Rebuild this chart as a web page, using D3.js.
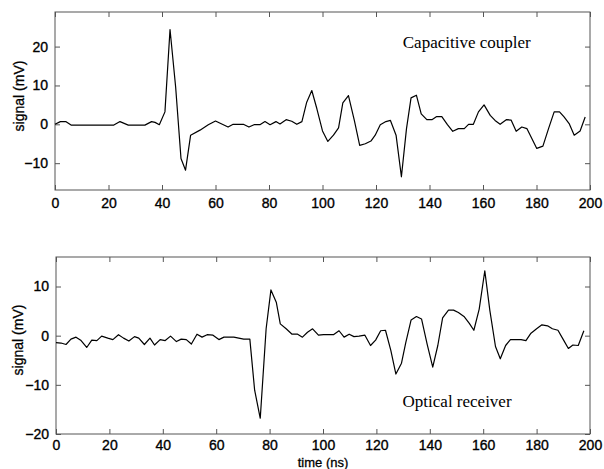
<!DOCTYPE html>
<html>
<head>
<meta charset="utf-8">
<script src="https://cdn.jsdelivr.net/npm/d3@7"></script>
<style>
  body { margin: 0; background: #fff; }
  svg { display: block; }
  .tick text { font-family: Arial, "Liberation Sans", sans-serif; font-size: 14px; fill: #000; stroke: #000; stroke-width: 0.35px; }
  .ylab { font-family: Arial, "Liberation Sans", sans-serif; font-size: 14px; fill: #000; stroke: #000; stroke-width: 0.3px; }
  .xlab { font-family: Arial, "Liberation Sans", sans-serif; font-size: 13px; fill: #000; stroke: #000; stroke-width: 0.3px; }
  .note { font-family: "Times New Roman", "Liberation Serif", serif; font-size: 17px; fill: #000; }
</style>
</head>
<body>
<div id="chart"></div>
<script>
// Capacitive coupler (top panel)
const capTime = [0, 2, 4, 6, 10, 14, 18, 22, 24.3, 27.4, 30, 33.6, 36.1, 37.4, 39, 41.1, 43, 45.1, 47.1, 48.8,
  50.7, 54.2, 57.3, 60, 64.7, 66.6, 70.4, 72.5, 74.4, 76.6, 78.5, 80.4, 82.6, 84.1, 86.4, 88.5, 90.4, 92.3,
  94.1, 96, 97.9, 100, 102, 104.1, 106, 107.6, 109.7, 111.9, 113.9, 116, 118.1, 119.7, 121.6, 123.7, 125.4,
  127.5, 129.5, 131.4, 133.1, 135.1, 136.9, 139, 140.9, 142.7, 144.6, 146.7, 148.7, 150.8, 153, 154.6, 156.4,
  158.3, 160.4, 162.7, 164.5, 166.4, 168.7, 170.5, 172.4, 174.5, 176.4, 178.3, 180.1, 182.4, 184.5, 186.6,
  188.6, 190.3, 192.2, 194.1, 196.3, 198.2];
const capSignal = [0, 0.7, 0.7, -0.2, -0.2, -0.2, -0.2, -0.2, 0.7, -0.2, -0.2, -0.2, 0.7, 0.5, -0.1, 3.2, 24.4, 9.6, -8.8, -11.8,
  -2.8, -1.5, -0.1, 0.85, -0.7, 0, 0, -0.7, -0.1, -0.1, 0.7, -0.1, 0.7, 0.1, 1.2, 0.8, 0, 0.7,
  5.7, 8.7, 4, -1.7, -4.4, -2.8, -0.9, 5.5, 7.4, 1, -5.4, -5, -4.3, -2.8, -0.1, 0.7, 1,
  -2.8, -13.5, -1.1, 6.8, 7.5, 2.7, 1.2, 1.2, 2, 2, -0.1, -1.8, -1.1, -1.1, 0, 0,
  3.2, 5, 2.3, 1, 0, 1.2, 1.1, -1.8, -0.7, -1.1, -3.7, -6.2, -5.6, -1.1, 3.2,
  3.2, 1.9, 0.2, -2.8, -1.7, 1.9];

// Optical receiver (bottom panel)
const optTime = [0, 1.9, 3.75, 5.6, 7.5, 9.4, 11.5, 13.4, 15.3, 17.1, 19.4, 21.3, 23.4, 25.3, 27.3, 29.4, 31, 33.1,
  35.2, 36.9, 39, 40.9, 42.9, 45.1, 46.9, 48.8, 50.7, 52.8, 54.7, 56.6, 58.8, 61, 62.9, 66.6, 70.3, 72.6, 74.4,
  76.5, 78.7, 80.5, 82.5, 84, 86.2, 88.4, 90.5, 92.3, 94.2, 96.1, 98.3, 100.2, 102, 103.9, 106, 107.9, 109.8,
  111.6, 113.5, 115.7, 117.8, 119.7, 121.6, 123.4, 125.4, 127.3, 129.4, 131, 133, 135, 136.9, 139, 141.1, 143,
  144.8, 147, 148.9, 150.7, 152.8, 154.8, 156.5, 158.5, 160.6, 162.5, 164.6, 166.4, 168.4, 170.2, 172.1, 174.2,
  176, 177.9, 180, 182, 184.1, 185.9, 188, 189.9, 191.9, 193.6, 195.6, 197.7];
const optSignal = [-1.4, -1.5, -1.8, -0.7, -0.3, -1, -2.4, -0.9, -1, -0.1, -0.5, -0.8, 0.2, -0.5, -1.1, -0.2, -0.5, -1.8,
  -0.5, -1.9, -0.8, -1, -0.1, -1.2, -0.7, -0.8, -1.7, 0.3, -0.3, 0.2, 0.1, -0.8, -0.3, -0.3, -0.7, -0.7, -11.1,
  -16.8, 1.4, 9.3, 6.8, 2.4, 1.4, 0.3, 0.3, -0.3, 0.7, 1.4, 0.1, 0.2, 0.2, 0.2, 1, -0.3, 0.3,
  -0.2, -0.1, 0.1, -2, -0.9, 1, 1.1, -3, -7.8, -5.6, -1.4, 3.2, 3.9, 3.4, -1.7, -6.4, -2,
  3.6, 5.2, 5.2, 4.7, 3.9, 2.5, 1.1, 5.4, 13.2, 5.1, -2.2, -4.7, -2, -0.8, -0.8, -0.8,
  -1, 0.5, 1.4, 2.2, 2, 1.4, 1.1, -0.7, -2.6, -1.9, -2, 1];

const xTicks = [0, 20, 40, 60, 80, 100, 120, 140, 160, 180, 200];
const capTicks = [-10, 0, 10, 20];
const optTicks = [-20, -10, 0, 10];

const W = 604, H = 469;
const svg = d3.select('#chart').append('svg')
  .attr('width', W).attr('height', H);

function panel(opts) {
  const x = d3.scaleLinear().domain([0, 200]).range([opts.left, opts.right]);
  const y = d3.scaleLinear().domain(opts.yDomain).range([opts.bottom, opts.top]);
  const g = svg.append('g');
  const w = opts.right - opts.left, h = opts.bottom - opts.top;

  // box
  g.append('rect')
    .attr('x', opts.left).attr('y', opts.top)
    .attr('width', w).attr('height', h)
    .attr('fill', 'none').attr('stroke', '#555').attr('stroke-width', 1);

  // axes with inward ticks
  const bx = g.append('g').attr('transform', `translate(0,${opts.bottom})`)
    .call(d3.axisBottom(x).tickValues(xTicks).tickSize(-5).tickPadding(opts.xPad));
  const tx = g.append('g').attr('transform', `translate(0,${opts.top})`)
    .call(d3.axisTop(x).tickValues(xTicks).tickSize(-5).tickFormat(''));
  const ly = g.append('g').attr('transform', `translate(${opts.left},0)`)
    .call(d3.axisLeft(y).tickValues(opts.yTicks).tickSize(-5).tickPadding(7));
  const ry = g.append('g').attr('transform', `translate(${opts.right},0)`)
    .call(d3.axisRight(y).tickValues(opts.yTicks).tickSize(-5).tickFormat(''));
  [bx, tx, ly, ry].forEach(a => {
    a.select('.domain').remove();
    a.selectAll('line').attr('stroke', '#555');
  });

  const line = d3.line()
    .x((d, i) => x(opts.t[i]))
    .y(d => y(d));
  g.append('path')
    .datum(opts.v)
    .attr('d', line)
    .attr('fill', 'none')
    .attr('stroke', '#000')
    .attr('stroke-width', 1.2)
    .attr('stroke-linejoin', 'round');

  g.append('text')
    .attr('class', 'ylab')
    .attr('transform', `translate(${opts.labelX},${opts.labelY}) rotate(-90)`)
    .attr('text-anchor', 'middle')
    .attr('dy', '0.35em')
    .text('signal (mV)');

  g.append('text')
    .attr('class', 'note')
    .attr('x', x(opts.noteT))
    .attr('y', y(opts.noteV))
    .text(opts.note);

  return { x, y };
}

panel({
  left: 55, right: 590, top: 12, bottom: 190,
  yDomain: [-16.9, 28.9], yTicks: capTicks, xPad: 8,
  t: capTime, v: capSignal,
  labelX: 19, labelY: 96,
  note: 'Capacitive coupler', noteT: 130, noteV: 19.6
});

const bottom = panel({
  left: 56, right: 590, top: 257, bottom: 434,
  yDomain: [-20, 16], yTicks: optTicks, xPad: 6,
  t: optTime, v: optSignal,
  labelX: 18, labelY: 340,
  note: 'Optical receiver', noteT: 129.8, noteV: -14.5
});

svg.append('text')
  .attr('class', 'xlab')
  .attr('x', bottom.x(100))
  .attr('y', 466.5)
  .attr('text-anchor', 'middle')
  .text('time (ns)');
</script>
</body>
</html>
